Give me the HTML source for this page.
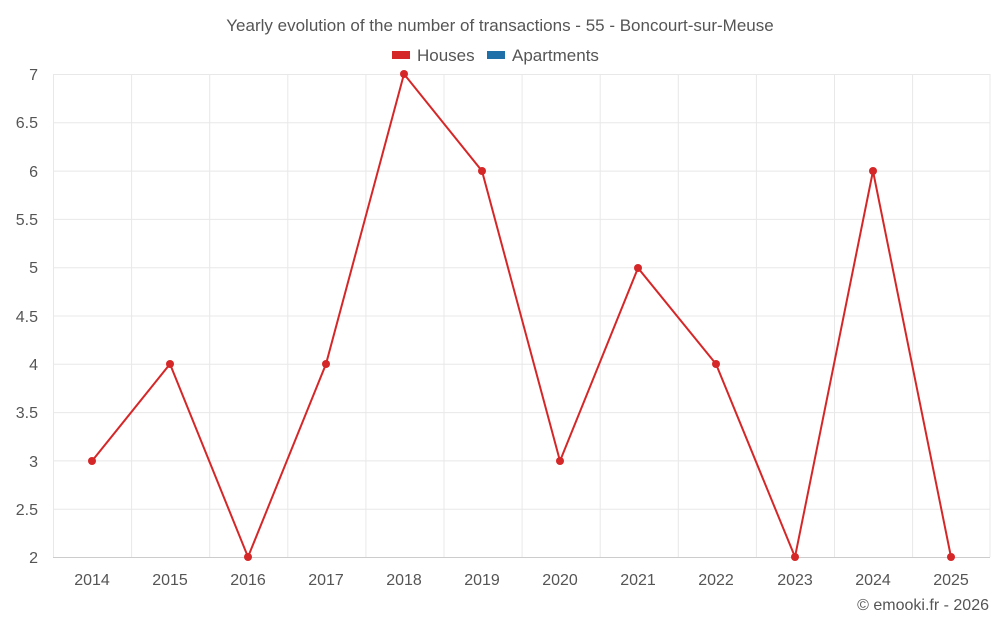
<!DOCTYPE html>
<html><head><meta charset="utf-8"><style>
body{margin:0;background:#fff;}
svg text{font-family:"Liberation Sans",sans-serif;fill:#555;}
</style></head><body>
<svg width="1000" height="625" viewBox="0 0 1000 625">
<text x="500" y="31" font-size="17" text-anchor="middle">Yearly evolution of the number of transactions - 55 - Boncourt-sur-Meuse</text>
<rect x="392" y="51" width="18" height="8" fill="#d62728"/>
<text x="417" y="61" font-size="17">Houses</text>
<rect x="487" y="51" width="18" height="8" fill="#1f6fa8"/>
<text x="512" y="61" font-size="17">Apartments</text>
<g stroke="#e8e8e8" stroke-width="1">
<line x1="53" x2="990" y1="74.5" y2="74.5"/>
<line x1="53" x2="990" y1="122.8" y2="122.8"/>
<line x1="53" x2="990" y1="171.1" y2="171.1"/>
<line x1="53" x2="990" y1="219.4" y2="219.4"/>
<line x1="53" x2="990" y1="267.7" y2="267.7"/>
<line x1="53" x2="990" y1="316" y2="316"/>
<line x1="53" x2="990" y1="364.3" y2="364.3"/>
<line x1="53" x2="990" y1="412.6" y2="412.6"/>
<line x1="53" x2="990" y1="460.9" y2="460.9"/>
<line x1="53" x2="990" y1="509.2" y2="509.2"/>
<line x1="53.5" x2="53.5" y1="74" y2="557"/>
<line x1="131.6" x2="131.6" y1="74" y2="557"/>
<line x1="209.7" x2="209.7" y1="74" y2="557"/>
<line x1="287.8" x2="287.8" y1="74" y2="557"/>
<line x1="365.9" x2="365.9" y1="74" y2="557"/>
<line x1="444" x2="444" y1="74" y2="557"/>
<line x1="522.1" x2="522.1" y1="74" y2="557"/>
<line x1="600.2" x2="600.2" y1="74" y2="557"/>
<line x1="678.3" x2="678.3" y1="74" y2="557"/>
<line x1="756.4" x2="756.4" y1="74" y2="557"/>
<line x1="834.5" x2="834.5" y1="74" y2="557"/>
<line x1="912.6" x2="912.6" y1="74" y2="557"/>
<line x1="990" x2="990" y1="74" y2="557"/>
</g>
<line x1="53" x2="990" y1="557.5" y2="557.5" stroke="#ccc"/>
<g font-size="16" text-anchor="end">
<text x="38" y="80">7</text><text x="38" y="128">6.5</text><text x="38" y="177">6</text>
<text x="38" y="225">5.5</text><text x="38" y="273">5</text><text x="38" y="322">4.5</text>
<text x="38" y="370">4</text><text x="38" y="418">3.5</text><text x="38" y="467">3</text>
<text x="38" y="515">2.5</text><text x="38" y="563">2</text>
</g>
<g font-size="16" text-anchor="middle">
<text x="92" y="585">2014</text><text x="170" y="585">2015</text><text x="248" y="585">2016</text>
<text x="326" y="585">2017</text><text x="404" y="585">2018</text><text x="482" y="585">2019</text>
<text x="560" y="585">2020</text><text x="638" y="585">2021</text><text x="716" y="585">2022</text>
<text x="795" y="585">2023</text><text x="873" y="585">2024</text><text x="951" y="585">2025</text>
</g>
<polyline fill="none" stroke="#d62728" stroke-width="2" points="92,461 170,364 248,557 326,364 404,74 482,171 560,461 638,268 716,364 795,557 873,171 951,557"/>
<g fill="#d62728">
<circle cx="92" cy="461" r="4"/><circle cx="170" cy="364" r="4"/><circle cx="248" cy="557" r="4"/>
<circle cx="326" cy="364" r="4"/><circle cx="404" cy="74" r="4"/><circle cx="482" cy="171" r="4"/>
<circle cx="560" cy="461" r="4"/><circle cx="638" cy="268" r="4"/><circle cx="716" cy="364" r="4"/>
<circle cx="795" cy="557" r="4"/><circle cx="873" cy="171" r="4"/><circle cx="951" cy="557" r="4"/>
</g>
<text x="989" y="610" font-size="16" text-anchor="end">© emooki.fr - 2026</text>
</svg>
</body></html>
